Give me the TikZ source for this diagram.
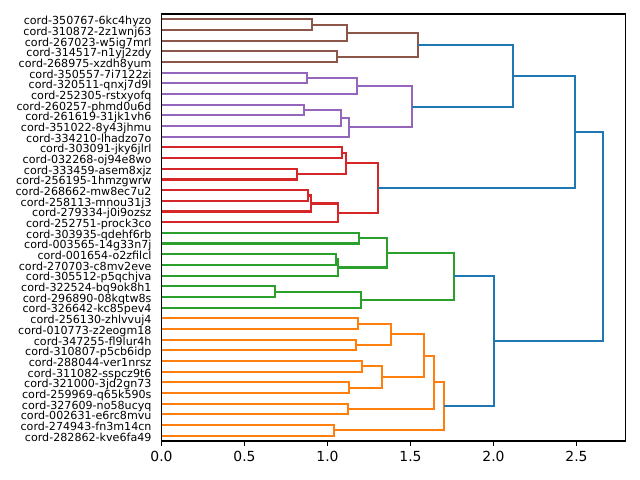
\documentclass[tikz,border=0pt]{standalone}
\usepackage{fontspec}
\setmainfont{DejaVu Sans}
\usetikzlibrary{calc}
\definecolor{cZero}{HTML}{1F77B4}
\definecolor{cOne}{HTML}{FF7F0E}
\definecolor{cTwo}{HTML}{2CA02C}
\definecolor{cThree}{HTML}{D62728}
\definecolor{cFour}{HTML}{9467BD}
\definecolor{cFive}{HTML}{8C564B}
\tikzset{
  dlink/.style={line width=1.5pt, line join=miter},
  axframe/.style={line width=0.8pt, black},
  xtick/.style={line width=0.8pt, black},
  leaflab/.style={anchor=base east, inner sep=0pt, xshift=-7pt, yshift=-3.9pt, font=\fontsize{8}{9.6}\selectfont},
  ticklab/.style={anchor=north, inner sep=0pt, yshift=-7pt, font=\fontsize{10}{12}\selectfont}
}
\newcommand\lnk[5]{%
  \coordinate (h) at (#4,0);
  \draw[dlink,#5] (#2) -- (#2 -| h) -- (#3 -| h) -- (#3);
  \coordinate (#1) at ($(#2 -| h)!0.5!(#3 -| h)$);
}
\begin{document}
\begin{tikzpicture}[x=0.72pt, y=-0.72pt]
\useasboundingbox (0,0) rectangle (640,480);
\begin{scope}[shift={(161.5,14)}, x=119.52pt, y=-7.686pt]
\foreach \lab [count=\i from 0] in {cord-350767-6kc4hyzo, cord-310872-2z1wnj63, cord-267023-w5ig7mrl, cord-314517-n1yj2zdy, cord-268975-xzdh8yum, cord-350557-7i7122zi, cord-320511-qnxj7d9l, cord-252305-rstxyofq, cord-260257-phmd0u6d, cord-261619-31jk1vh6, cord-351022-8y43jhmu, cord-334210-lhadzo7o, cord-303091-jky6jlrl, cord-032268-oj94e8wo, cord-333459-asem8xjz, cord-256195-1hmzgwrw, cord-268662-mw8ec7u2, cord-258113-mnou31j3, cord-279334-j0i9ozsz, cord-252751-prock3co, cord-303935-qdehf6rb, cord-003565-14g33n7j, cord-001654-o2zfilcl, cord-270703-c8mv2eve, cord-305512-p5qchjva, cord-322524-bq9ok8h1, cord-296890-08kqtw8s, cord-326642-kc85pev4, cord-256130-zhlvvuj4, cord-010773-z2eogm18, cord-347255-fl9lur4h, cord-310807-p5cb6idp, cord-288044-ver1nrsz, cord-311082-sspcz9t6, cord-321000-3jd2gn73, cord-259969-q65k590s, cord-327609-no58ucyq, cord-002631-e6rc8mvu, cord-274943-fn3m14cn, cord-282862-kve6fa49} {
  \coordinate (l\i) at (0,\i+0.5);
  \node[leaflab] (t\i) at (l\i) {\lab};
}
% brown
\lnk{b1}{l0}{l1}{0.907}{cFive}
\lnk{b2}{b1}{l2}{1.117}{cFive}
\lnk{b3}{l3}{l4}{1.057}{cFive}
\lnk{b4}{b2}{b3}{1.547}{cFive}
% purple
\lnk{p1}{l5}{l6}{0.878}{cFour}
\lnk{p2}{p1}{l7}{1.178}{cFour}
\lnk{p3}{l8}{l9}{0.856}{cFour}
\lnk{p4}{p3}{l10}{1.079}{cFour}
\lnk{p5}{p4}{l11}{1.129}{cFour}
\lnk{p6}{p2}{p5}{1.509}{cFour}
% red
\lnk{r1}{l12}{l13}{1.087}{cThree}
\lnk{r2}{l14}{l15}{0.818}{cThree}
\lnk{r3}{r1}{r2}{1.110}{cThree}
\lnk{r4}{l16}{l17}{0.883}{cThree}
\lnk{r5}{r4}{l18}{0.899}{cThree}
\lnk{r6}{r5}{l19}{1.063}{cThree}
\lnk{r7}{r3}{r6}{1.302}{cThree}
% green
\lnk{g1}{l20}{l21}{1.190}{cTwo}
\lnk{g2}{l22}{l23}{1.051}{cTwo}
\lnk{g3}{g2}{l24}{1.063}{cTwo}
\lnk{g4}{g1}{g3}{1.358}{cTwo}
\lnk{g5}{l25}{l26}{0.684}{cTwo}
\lnk{g6}{g5}{l27}{1.204}{cTwo}
\lnk{g7}{g4}{g6}{1.762}{cTwo}
% orange
\lnk{o1}{l28}{l29}{1.184}{cOne}
\lnk{o2}{l30}{l31}{1.172}{cOne}
\lnk{o3}{o1}{o2}{1.383}{cOne}
\lnk{o4}{l32}{l33}{1.208}{cOne}
\lnk{o5}{l34}{l35}{1.130}{cOne}
\lnk{o6}{o4}{o5}{1.328}{cOne}
\lnk{o7}{o3}{o6}{1.579}{cOne}
\lnk{o8}{l36}{l37}{1.122}{cOne}
\lnk{o9}{o7}{o8}{1.640}{cOne}
\lnk{o10}{l38}{l39}{1.039}{cOne}
\lnk{o11}{o9}{o10}{1.702}{cOne}
% blue
\lnk{c1}{b4}{p6}{2.117}{cZero}
\lnk{c2}{c1}{r7}{2.491}{cZero}
\lnk{c3}{g7}{o11}{2.003}{cZero}
\lnk{c4}{c2}{c3}{2.660}{cZero}
% axes
\draw[axframe] (0,0) rectangle (2.796,40);
\foreach \v [count=\k] in {0.0,0.5,1.0,1.5,2.0,2.5} {
  \coordinate (xt\k) at (\v,40);
  \draw[xtick] (xt\k) -- ++(0,-3.5pt);
  \node[ticklab] (xl\k) at (xt\k) {\v};
}
\end{scope}
\end{tikzpicture}
\end{document}
